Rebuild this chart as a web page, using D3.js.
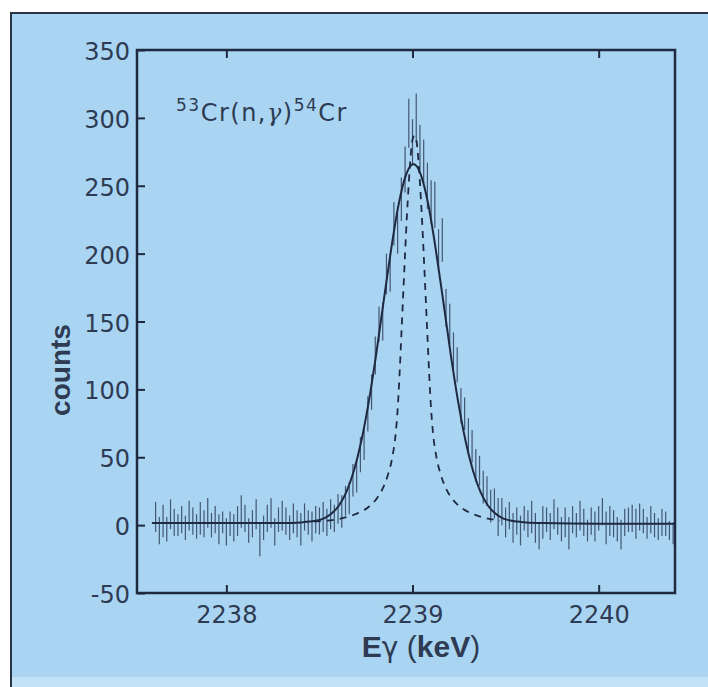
<!DOCTYPE html>
<html>
<head>
<meta charset="utf-8">
<script src="https://cdn.jsdelivr.net/npm/d3@7"></script>
<style>
  html, body { margin: 0; padding: 0; background: #ffffff; }
  svg { display: block; }
</style>
</head>
<body>
<div id="chart"></div>
<script>
// ---------- data ----------
const energyStart = 2237.62;   // keV, first channel
const energyStep = 0.02;       // keV per channel

const counts = [
  6,-4,3,-3,8,2,0,4,-2,7,
  3,-1,5,1,9,0,4,-3,2,-5,
  1,-2,3,10,5,-4,1,8,-11,-2,
  5,9,-5,4,7,3,-2,5,1,-3,
  6,2,-1,4,
  3,6,2,8,5,12,
  10,18,20,33,36,52,60,82,98,125,
  148,150,185,186,222,215,240,262,296,282,
  300,278,268,250,238,236,203,210,160,148,
  128,118,88,82,66,58,44,40,28,25,
  14,16,6,10,2,7,-2,
  3,-4,5,1,6,-2,-8,2,4,-1,
  8,3,-3,2,-6,4,0,7,2,-4,
  3,-1,5,10,-2,3,1,-3,-7,2,
  4,5,1,6,3,-2,4,0,-3,2,
  1,-4,-6
];

const errors = [
  11,10,12,9,11,10,8,10,9,11,
  10,9,12,10,11,9,10,11,8,10,
  9,10,11,12,10,9,10,11,12,9,
  10,11,10,9,11,10,9,11,10,12,
  10,9,11,10,
  10,11,10,11,10,11,12,11,12,12,
  12,13,12,13,13,14,13,14,15,14,
  16,15,16,17,18,17,18,17,16,17,
  16,17,15,16,14,15,14,13,13,12,
  13,12,12,11,12,11,12,11,14,10,
  11,10,11,
  10,11,9,10,12,11,10,12,9,10,
  11,10,9,11,12,10,9,11,10,8,
  10,11,9,10,12,11,10,9,11,10,
  9,10,11,10,9,8,10,9,8,10,
  9,7,8
];

// solid fitted curve (keV, counts)
const solidE = [2237.60,2238.00,2238.30,2238.40,2238.445,2238.485,2238.525,2238.565,2238.605,2238.645,
  2238.685,2238.725,2238.765,2238.805,2238.845,2238.885,2238.925,2238.965,2239.005,
  2239.045,2239.085,2239.125,2239.165,2239.205,2239.245,2239.285,2239.325,2239.365,
  2239.405,2239.445,2239.485,2239.525,2239.565,2239.61,2239.70,2240.00,2240.41];
const solidC = [1.5,1.5,1.6,2.0,2.6,3.4,5.0,8.5,14.5,24.5,
  40,62,91,126,165,203,236,258,266,
  258,236,203,165,126,91,62,40,24.5,
  14.5,8.5,5.0,3.4,2.6,2.0,1.5,1.0,1.0];

// dashed curve (keV, counts)
const dashedE = [2238.47,2238.51,2238.59,2238.65,2238.71,2238.76,2238.81,2238.84,2238.87,2238.89,
  2238.91,2238.92,2238.93,2238.94,2238.95,2238.96,2238.97,2238.98,2238.99,2239.00,2239.01,
  2239.02,2239.03,2239.04,2239.05,2239.06,2239.07,2239.08,2239.09,2239.10,2239.11,
  2239.13,2239.15,2239.18,2239.21,2239.26,2239.31,2239.37,2239.43,2239.47];
const dashedC = [2.7,3.0,4.2,6,9,13,20,27,38,49,
  68,85,110,140,170,200,228,252,272,284,287,
  284,272,252,228,200,170,140,110,85,68,
  49,38,27,20,13,9,6,4.2,3.3];

const yTicks = [-50,0,50,100,150,200,250,300,350];
const xTicks = [2238,2239,2240];

// ---------- drawing ----------
const W = 708, H = 687;
const ink = "#1f2a40";
const textInk = "#2e3b52";

const svg = d3.select("#chart").append("svg")
  .attr("width", W).attr("height", H);

// light-blue panel with frame
svg.append("rect").attr("x", 0).attr("y", 0).attr("width", W).attr("height", H).attr("fill", "#ffffff");
svg.append("rect").attr("x", 11).attr("y", 13).attr("width", W + 20).attr("height", H)
  .attr("fill", "#a9d5f3").attr("stroke", "#2a3345").attr("stroke-width", 2);
svg.append("rect").attr("x", 12).attr("y", 677).attr("width", W).attr("height", 12)
  .attr("fill", "#c2e2f7");

const x = d3.scaleLinear().domain([2237.52, 2240.41]).range([137, 675]);
const y = d3.scaleLinear().domain([-50, 350]).range([593, 50]);

// axes
const axFont = "'DejaVu Sans', 'Liberation Sans', sans-serif";
const fmt = d => String(d);
const gl = svg.append("g").attr("transform", `translate(${x.range()[0]},0)`)
  .call(d3.axisLeft(y).tickValues(yTicks).tickSize(-8).tickPadding(7).tickFormat(fmt));
const gb = svg.append("g").attr("transform", `translate(0,${y.range()[0]})`)
  .call(d3.axisBottom(x).tickValues(xTicks).tickSize(-8).tickPadding(13).tickFormat(fmt));
const gt = svg.append("g").attr("transform", `translate(0,${y.range()[1]})`)
  .call(d3.axisTop(x).tickValues(xTicks).tickSize(-8).tickFormat(""));
[gl, gb, gt].forEach(g => {
  g.select(".domain").remove();
  g.selectAll(".tick line").attr("stroke", ink).attr("stroke-width", 2);
  g.selectAll(".tick text").attr("fill", textInk).style("font-family", axFont).style("font-size", "24px");
});
gl.selectAll(".tick text").attr("dy", "0.4em");

// plot frame
svg.append("rect")
  .attr("x", x.range()[0]).attr("y", y.range()[1])
  .attr("width", x.range()[1] - x.range()[0]).attr("height", y.range()[0] - y.range()[1])
  .attr("fill", "none").attr("stroke", ink).attr("stroke-width", 2.5);

// error bars
const pts = counts.map((c, i) => ({ e: energyStart + i * energyStep, c, s: errors[i] }));
svg.append("g").selectAll("line").data(pts).join("line")
  .attr("x1", d => x(d.e)).attr("x2", d => x(d.e))
  .attr("y1", d => y(d.c - d.s)).attr("y2", d => y(d.c + d.s))
  .attr("stroke", "#2b3650").attr("stroke-width", 1.2).attr("stroke-opacity", 0.8);

// dashed curve
const line = d3.line().x(d => x(d[0])).y(d => y(d[1])).curve(d3.curveMonotoneX);
svg.append("path").datum(dashedE.map((e, i) => [e, dashedC[i]]))
  .attr("d", line).attr("fill", "none").attr("stroke", ink)
  .attr("stroke-width", 1.8).attr("stroke-dasharray", "7,6");

// solid curve
svg.append("path").datum(solidE.map((e, i) => [e, solidC[i]]))
  .attr("d", line).attr("fill", "none").attr("stroke", ink).attr("stroke-width", 2);

// axis titles
svg.append("text")
  .attr("transform", "translate(70,370) rotate(-90)")
  .attr("text-anchor", "middle")
  .style("font-family", "'Liberation Sans', Arial, sans-serif")
  .style("font-weight", "bold").style("font-size", "28px")
  .attr("fill", textInk).text("counts");

const xt = svg.append("text")
  .attr("x", 421).attr("y", 657).attr("text-anchor", "middle")
  .style("font-family", "'Liberation Sans', Arial, sans-serif")
  .style("font-size", "30px").attr("fill", textInk);
xt.append("tspan").style("font-weight", "bold").text("E");
xt.append("tspan").style("font-family", "'DejaVu Sans', sans-serif").style("font-size", "28px").text("γ");
xt.append("tspan").text(" (");
xt.append("tspan").style("font-weight", "bold").text("keV");
xt.append("tspan").text(")");

// reaction label
const ann = svg.append("text")
  .attr("x", 176).attr("y", 121)
  .style("font-family", "'DejaVu Sans', sans-serif")
  .style("font-size", "24px").style("letter-spacing", "1.5px").attr("fill", textInk);
ann.append("tspan").attr("dy", -10).style("font-size", "17px").text("53");
ann.append("tspan").attr("dy", 10).text("Cr(n,");
ann.append("tspan").style("font-family", "'DejaVu Serif', serif").style("font-style", "italic").text("γ");
ann.append("tspan").text(")");
ann.append("tspan").attr("dy", -10).style("font-size", "17px").text("54");
ann.append("tspan").attr("dy", 10).text("Cr");
</script>
</body>
</html>
